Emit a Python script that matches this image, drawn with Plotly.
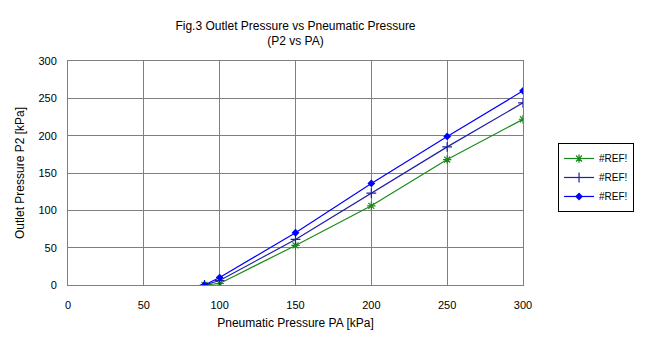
import plotly.graph_objects as go

pa = [90, 100, 150, 200, 250, 300]
p2_green = [0, 2, 53, 106, 168, 222]
p2_navy = [0, 6, 61, 123, 185, 244]
p2_blue = [0, 10, 70, 136, 199, 260]
names = ["#REF!", "#REF!", "#REF!"]

fig = go.Figure()
fig.add_trace(go.Scatter(x=pa, y=p2_green, name=names[0], mode="lines+markers",
                         line=dict(color="#1a8a1a", width=1.2),
                         marker=dict(symbol="asterisk-open", size=7, color="#1a8a1a",
                                     line=dict(color="#1a8a1a", width=1.2))))
fig.add_trace(go.Scatter(x=pa, y=p2_navy, name=names[1], mode="lines+markers",
                         line=dict(color="#1f1fa8", width=1.2),
                         marker=dict(symbol="cross-thin-open", size=7, color="#1f1fa8",
                                     line=dict(color="#1f1fa8", width=1.2))))
fig.add_trace(go.Scatter(x=pa, y=p2_blue, name=names[2], mode="lines+markers",
                         line=dict(color="#0000ff", width=1.2),
                         marker=dict(symbol="diamond", size=6, color="#0000ff")))

axis_common = dict(showgrid=True, gridcolor="#7f7f7f", gridwidth=1,
                   showline=True, linecolor="#7f7f7f", linewidth=1, mirror=True,
                   zeroline=False, ticks="", tickfont=dict(family="Liberation Sans, Arial", size=11, color="#000"))

fig.update_layout(
    width=658, height=352,
    margin=dict(l=68, r=135, t=61, b=67),
    paper_bgcolor="white", plot_bgcolor="white",
    title=dict(text="Fig.3 Outlet Pressure vs Pneumatic Pressure<br>(P2 vs PA)",
               x=0.5, xanchor="center", xref="paper", y=0.916, yanchor="top",
               font=dict(family="Liberation Sans, Arial", size=12, color="#000")),
    xaxis=dict(range=[0, 300], tickvals=[0, 50, 100, 150, 200, 250, 300],
               ticklabelstandoff=10,
               title=dict(text="Pneumatic Pressure PA [kPa]", standoff=8,
                          font=dict(family="Liberation Sans, Arial", size=12, color="#000")),
               **axis_common),
    yaxis=dict(range=[0, 300], tickvals=[0, 50, 100, 150, 200, 250, 300],
               ticklabelstandoff=8,
               title=dict(text="Outlet Pressure P2 [kPa]", standoff=11,
                          font=dict(family="Liberation Sans, Arial", size=12, color="#000")),
               **axis_common),
    legend=dict(x=1.077, y=0.634, xanchor="left", yanchor="top",
                bordercolor="#000", borderwidth=1, bgcolor="white",
                font=dict(family="Liberation Sans, Arial", size=10, color="#000"),
                tracegroupgap=4, itemwidth=30),
    showlegend=True,
)

fig.write_html("out.html")
